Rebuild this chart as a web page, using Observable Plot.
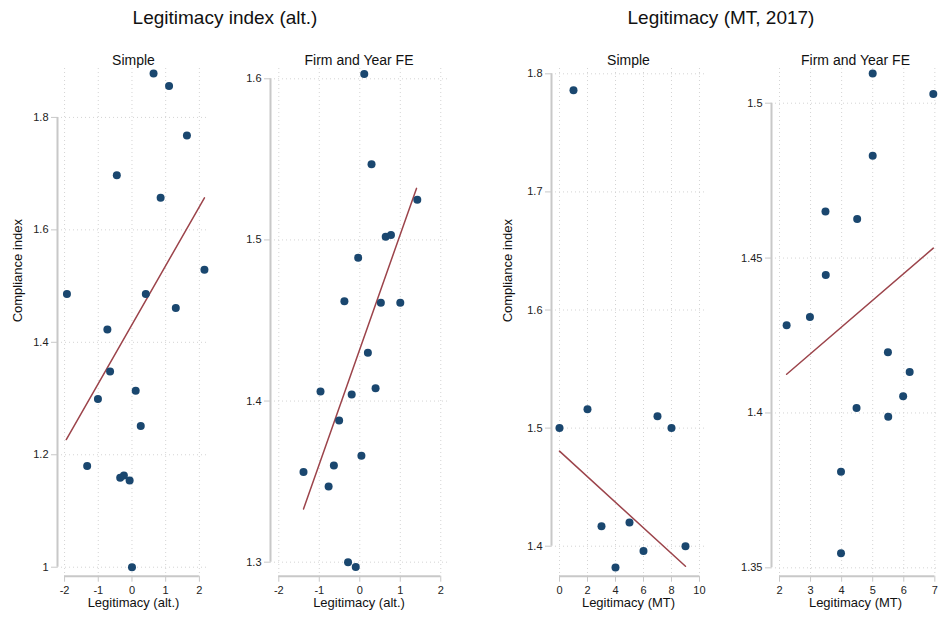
<!DOCTYPE html>
<html>
<head>
<meta charset="utf-8">
<script src="https://cdn.jsdelivr.net/npm/d3@7"></script>
<script src="https://cdn.jsdelivr.net/npm/@observablehq/plot@0.6"></script>
<style>
  html, body { margin: 0; padding: 0; background: #fff; }
  #wrap { position: relative; width: 939px; height: 622px; overflow: hidden; font-family: "Liberation Sans", Arial, sans-serif; color: #111; }
  .title { position: absolute; top: 7px; font-size: 19px; text-align: center; white-space: nowrap; }
  .panel { position: absolute; top: 0; }
</style>
</head>
<body>
<div id="wrap"></div>
<script>
// ---- Data ----
const groupTitles = ["Legitimacy index (alt.)", "Legitimacy (MT, 2017)"];
const panelTitles = ["Simple", "Firm and Year FE", "Simple", "Firm and Year FE"];
const xLabels = ["Legitimacy (alt.)", "Legitimacy (alt.)", "Legitimacy (MT)", "Legitimacy (MT)"];
const yLabel = "Compliance index";

const altSimpleX = [0.64, 1.10, 1.63, -0.45, 0.85, 2.15, -1.93, 0.41, 1.30, -0.73, -0.65, 0.11, -1.01, 0.26, -1.33, -0.35, -0.24, -0.07, 0.00];
const altSimpleY = [1.878, 1.856, 1.768, 1.697, 1.657, 1.529, 1.486, 1.486, 1.461, 1.423, 1.348, 1.314, 1.299, 1.251, 1.180, 1.159, 1.163, 1.154, 1.000];
const altSimpleFitX = [-1.95, 2.15];
const altSimpleFitY = [1.227, 1.657];

const altFEX = [0.11, 0.29, 1.42, 0.64, 0.77, -0.04, -0.38, 0.52, 1.00, 0.20, 0.39, -0.97, -0.20, -0.51, 0.04, -0.64, -1.39, -0.77, -0.29, -0.10];
const altFEY = [1.603, 1.547, 1.525, 1.502, 1.503, 1.489, 1.462, 1.461, 1.461, 1.430, 1.408, 1.406, 1.404, 1.388, 1.366, 1.360, 1.356, 1.347, 1.300, 1.297];
const altFEFitX = [-1.39, 1.40];
const altFEFitY = [1.333, 1.532];

const mtSimpleX = [1, 2, 0, 7, 8, 3, 5, 6, 9, 4];
const mtSimpleY = [1.786, 1.516, 1.500, 1.510, 1.500, 1.417, 1.420, 1.396, 1.400, 1.382];
const mtSimpleFitX = [0, 9];
const mtSimpleFitY = [1.4805, 1.383];

const mtFEX = [5.0, 6.95, 5.0, 3.48, 4.5, 3.49, 2.98, 2.23, 5.49, 6.19, 5.98, 4.48, 5.50, 3.98, 3.98];
const mtFEY = [1.5096, 1.503, 1.483, 1.465, 1.4626, 1.4445, 1.431, 1.4283, 1.4196, 1.4132, 1.4054, 1.4016, 1.3988, 1.381, 1.3547];
const mtFEFitX = [2.23, 6.95];
const mtFEFitY = [1.4125, 1.4532];

const xTicks = [[-2, -1, 0, 1, 2], [-2, -1, 0, 1, 2], [0, 2, 4, 6, 8, 10], [2, 3, 4, 5, 6, 7]];
const yTicks = [[1, 1.2, 1.4, 1.6, 1.8], [1.3, 1.4, 1.5, 1.6], [1.4, 1.5, 1.6, 1.7, 1.8], [1.35, 1.4, 1.45, 1.5]];

// ---- Layout ----
const H = 622;
const panels = [
  {left: 0,   width: 230, ml: 57, mr: 21, xd: [-2.21, 2.30], yd: [0.984, 1.887], xs: altSimpleX, ys: altSimpleY, fx: altSimpleFitX, fy: altSimpleFitY, showY: true},
  {left: 230, width: 220, ml: 40, mr: 3,  xd: [-2.205, 2.166], yd: [1.2913, 1.6064], xs: altFEX, ys: altFEY, fx: altFEFitX, fy: altFEFitY, showY: false},
  {left: 490, width: 220, ml: 61, mr: 5,  xd: [-0.571, 10.43], yd: [1.3746, 1.8045], xs: mtSimpleX, ys: mtSimpleY, fx: mtSimpleFitX, fy: mtSimpleFitY, showY: true},
  {left: 710, width: 229, ml: 61, mr: 0,  xd: [1.743, 7.15], yd: [1.3473, 1.5112], xs: mtFEX, ys: mtFEY, fx: mtFEFitX, fy: mtFEFitY, showY: false}
];

const wrap = document.getElementById("wrap");

[[groupTitles[0], 225], [groupTitles[1], 721]].forEach(([t, cx]) => {
  const d = document.createElement("div");
  d.className = "title";
  d.textContent = t;
  d.style.left = (cx - 150) + "px";
  d.style.width = "300px";
  wrap.appendChild(d);
});

const navy = "#1a476f";
const maroon = "#9c444b";
const gridColor = "#d4d4d4";
const axisColor = "#c8c8c8";

panels.forEach((p, i) => {
  const pts = p.xs.map((x, k) => ({x, y: p.ys[k]}));
  const fit = p.fx.map((x, k) => ({x, y: p.fy[k]}));
  const xt = xTicks[i], yt = yTicks[i];
  const marks = [
    Plot.gridX(xt, {stroke: gridColor, strokeOpacity: 1, strokeDasharray: "1,3"}),
    Plot.gridY(yt, {stroke: gridColor, strokeOpacity: 1, strokeDasharray: "1,3"}),
    Plot.ruleX([p.xd[0]], {y1: yt[0], y2: yt[yt.length - 1], stroke: axisColor, strokeWidth: 2}),
    Plot.ruleY([p.yd[0]], {x1: xt[0], x2: xt[xt.length - 1], stroke: axisColor, strokeWidth: 2}),
    Plot.axisY(yt, {anchor: "left", tickSize: 6, tickPadding: 3, stroke: axisColor, fill: "#222", label: null, tickFormat: d => String(d)}),
    Plot.axisX(xt, {anchor: "bottom", tickSize: 6, tickPadding: 4, stroke: axisColor, fill: "#222", label: null, tickFormat: d => String(d)}),
    Plot.line(fit, {x: "x", y: "y", stroke: maroon, strokeWidth: 1.5}),
    Plot.dot(pts, {x: "x", y: "y", r: 4, fill: navy, stroke: "none"}),
    Plot.text([panelTitles[i]], {frameAnchor: "top", dy: -13, fontSize: 14, fill: "#111", text: d => d}),
    Plot.text([xLabels[i]], {frameAnchor: "bottom", dy: 31, fontSize: 13, fill: "#111", text: d => d})
  ];
  if (p.showY) {
    marks.push(Plot.text([yLabel], {frameAnchor: "left", dx: -(p.ml - 17.5), rotate: -90, fontSize: 13, fill: "#111", text: d => d}));
  }
  const svg = Plot.plot({
    width: p.width,
    height: H,
    marginLeft: p.ml,
    marginRight: p.mr,
    marginTop: 68,
    marginBottom: 46.3,
    x: {domain: p.xd, axis: null},
    y: {domain: p.yd, axis: null},
    style: {fontFamily: '"Liberation Sans", Arial, sans-serif', fontSize: "11px", background: "transparent", overflow: "visible"},
    marks
  });
  svg.classList.add("panel");
  svg.style.position = "absolute";
  svg.style.left = p.left + "px";
  svg.style.top = "0px";
  wrap.appendChild(svg);
});
</script>
</body>
</html>
